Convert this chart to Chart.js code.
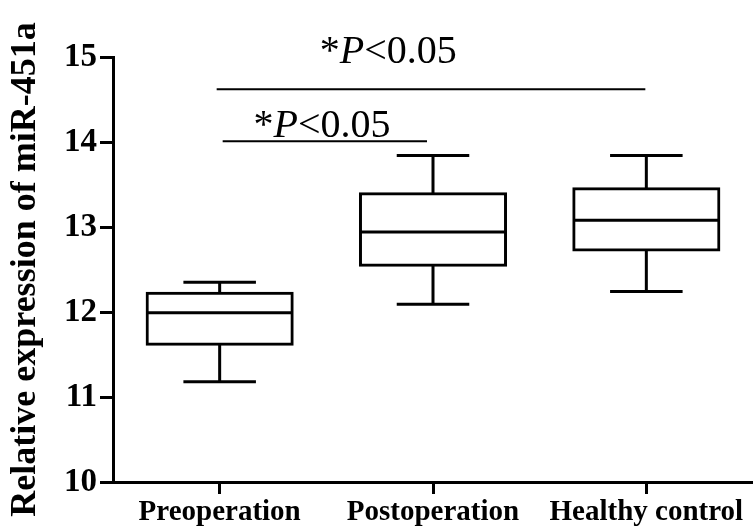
<!DOCTYPE html>
<html>
<head>
<meta charset="utf-8">
<title>miR-451a expression</title>
<script src="https://cdn.jsdelivr.net/npm/chart.js@4/dist/chart.umd.min.js"></script>
<style>
  html, body { margin: 0; padding: 0; background: #ffffff; }
  #wrap { width: 753px; height: 528px; position: relative; }
</style>
</head>
<body>
<div id="wrap"><canvas id="chart"></canvas></div>
<script>
// Groups and five-number summaries (whisker ends, quartiles, median)
const groups = ['Preoperation', 'Postoperation', 'Healthy control'];
const whiskerLow = [11.18, 12.09, 12.24];
const quartile1 = [11.62, 12.55, 12.73];
const medians = [11.99, 12.94, 13.08];
const quartile3 = [12.22, 13.39, 13.45];
const whiskerHigh = [12.35, 13.84, 13.84];
const yTicks = [10, 11, 12, 13, 14, 15];

// Pairwise comparisons drawn above the boxes
const compareFrom = [0, 0];
const compareTo = [2, 1];
const compareLevel = [14.62, 14.01];
const compareText = ['*P<0.05', '*P<0.05'];

const SERIF = '"Liberation Serif", "Times New Roman", "DejaVu Serif", serif';

// Whiskers, caps and median lines, placed on the bar elements of the box dataset
const boxWhiskers = {
  id: 'boxWhiskers',
  afterDatasetsDraw(chart) {
    const meta = chart.getDatasetMeta(0);
    const y = chart.scales.y;
    const ctx = chart.ctx;
    ctx.save();
    ctx.strokeStyle = '#000000';
    ctx.lineWidth = 3;
    ctx.lineCap = 'butt';
    meta.data.forEach((bar, i) => {
      const x = bar.x;
      const half = bar.width / 2;
      const cap = bar.width / 4;
      const pHi = y.getPixelForValue(whiskerHigh[i]);
      const pQ3 = y.getPixelForValue(quartile3[i]);
      const pMed = y.getPixelForValue(medians[i]);
      const pQ1 = y.getPixelForValue(quartile1[i]);
      const pLo = y.getPixelForValue(whiskerLow[i]);
      ctx.beginPath();
      ctx.moveTo(x, pQ3); ctx.lineTo(x, pHi);
      ctx.moveTo(x - cap, pHi); ctx.lineTo(x + cap, pHi);
      ctx.moveTo(x, pQ1); ctx.lineTo(x, pLo);
      ctx.moveTo(x - cap, pLo); ctx.lineTo(x + cap, pLo);
      ctx.moveTo(x - half, pMed); ctx.lineTo(x + half, pMed);
      ctx.stroke();
    });
    ctx.restore();
  }
};

// Significance bars with "*P<0.05" labels (P set in italic)
const significance = {
  id: 'significance',
  afterDraw(chart, args, opts) {
    const xs = chart.scales.x;
    const ys = chart.scales.y;
    const ctx = chart.ctx;
    ctx.save();
    ctx.strokeStyle = '#000000';
    ctx.fillStyle = '#000000';
    ctx.lineWidth = opts.lineWidth;
    compareLevel.forEach((level, i) => {
      const x0 = xs.getPixelForValue(compareFrom[i]) + opts.trimStart[i];
      const x1 = xs.getPixelForValue(compareTo[i]) + opts.trimEnd[i];
      const py = ys.getPixelForValue(level);
      ctx.beginPath();
      ctx.moveTo(x0, py);
      ctx.lineTo(x1, py);
      ctx.stroke();

      // split the label into upright / italic runs
      const text = compareText[i];
      const runs = [];
      for (const ch of text) {
        const italic = ch === 'P';
        const last = runs[runs.length - 1];
        if (last && last.italic === italic) last.s += ch;
        else runs.push({ s: ch, italic });
      }
      const fontFor = r => (r.italic ? 'italic ' : '') + opts.fontSize + 'px ' + SERIF;
      let total = 0;
      runs.forEach(r => { ctx.font = fontFor(r); r.w = ctx.measureText(r.s).width; total += r.w; });
      const cx = xs.getPixelForValue(opts.labelAt[i]);
      let tx = cx - total / 2;
      const ty = py - opts.labelLift[i];
      ctx.textBaseline = 'alphabetic';
      ctx.textAlign = 'left';
      runs.forEach(r => { ctx.font = fontFor(r); ctx.fillText(r.s, tx, ty); tx += r.w; });
    });
    ctx.restore();
  }
};

new Chart(document.getElementById('chart'), {
  type: 'bar',
  data: {
    labels: groups,
    datasets: [{
      label: 'Interquartile range',
      data: groups.map((g, i) => [quartile1[i], quartile3[i]]),
      backgroundColor: '#ffffff',
      borderColor: '#000000',
      borderWidth: 3,
      borderSkipped: false,
      inflateAmount: 1.5,
      barPercentage: 0.68,
      categoryPercentage: 1.0
    }]
  },
  options: {
    responsive: true,
    maintainAspectRatio: false,
    animation: false,
    layout: { padding: { top: 57, right: 0, bottom: 0, left: 0 } },
    plugins: {
      legend: { display: false },
      tooltip: { enabled: false },
      significance: {
        lineWidth: 2,
        fontSize: 40,
        trimStart: [-3, 3],
        trimEnd: [-1, -6],
        labelAt: [0.79, 0.48],
        labelLift: [26, 4]
      }
    },
    scales: {
      x: {
        type: 'category',
        offset: true,
        afterFit(scale) { scale.height = 46; },
        grid: {
          offset: false,
          drawOnChartArea: false,
          drawTicks: true,
          tickLength: 12,
          tickWidth: 3,
          tickColor: '#000000'
        },
        border: { display: true, color: '#000000', width: 3 },
        ticks: {
          color: '#000000',
          padding: 1,
          maxRotation: 0,
          autoSkip: false,
          font: { family: SERIF, size: 29, weight: 'bold' }
        }
      },
      y: {
        type: 'linear',
        min: 10,
        max: 15,
        afterFit(scale) { scale.width = 113; },
        afterBuildTicks(scale) { scale.ticks = yTicks.map(v => ({ value: v })); },
        grid: {
          drawOnChartArea: false,
          drawTicks: true,
          tickLength: 13,
          tickWidth: 3,
          tickColor: '#000000'
        },
        border: { display: true, color: '#000000', width: 3 },
        ticks: {
          color: '#000000',
          padding: 3,
          font: { family: SERIF, size: 33, weight: 'bold' }
        },
        title: {
          display: true,
          text: 'Relative expression of miR-451a',
          color: '#000000',
          padding: { top: 4, bottom: 0 },
          font: { family: SERIF, size: 36, weight: 'bold' }
        }
      }
    }
  },
  plugins: [boxWhiskers, significance]
});
</script>
</body>
</html>
